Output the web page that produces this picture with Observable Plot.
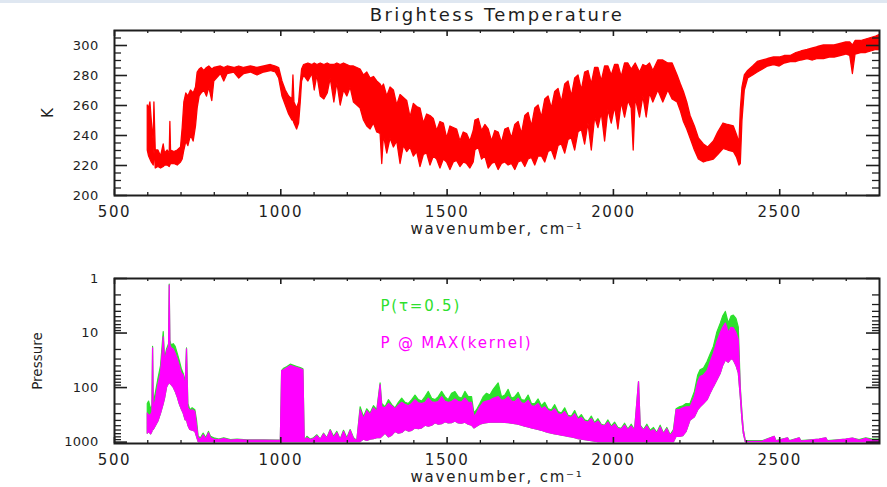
<!DOCTYPE html>
<html><head><meta charset="utf-8">
<script src="https://cdn.jsdelivr.net/npm/d3@7"></script>
<script src="https://cdn.jsdelivr.net/npm/@observablehq/plot@0.6"></script>
<style>
html,body{margin:0;padding:0;background:#fff;}
#wrap{position:relative;width:887px;height:487px;overflow:hidden;background:#fff;}
#wrap .panel{position:absolute;left:0;}
#strip{position:absolute;left:0;top:0;width:887px;height:3px;background:#dfe7f1;}
#wrap g[aria-label="x-axis tick label"] text{letter-spacing:1.6px;}
#wrap g[aria-label="y-axis tick label"] text{letter-spacing:0.3px;}
</style></head><body><div id="wrap"><div id="strip"></div></div>
<script>
// ---------- Brightness temperature (K): wavenumber, upper and lower envelope ----------
const tbWn = [600,604,608,612,618,620,624,632,640,648,652,660,666,668,670,680,690,700,705,710,716,722,730,738,745,750,756,762,770,778,785,794,800,820,830,840,860,875,890,910,930,950,970,985,995,1005,1015,1025,1035,1038,1041,1049,1055,1060,1064,1070,1083,1095,1102,1110,1120,1131,1141,1150,1161,1170,1180,1190,1200,1210,1220,1230,1240,1250,1260,1270,1280,1290,1300,1305,1310,1320,1330,1340,1350,1360,1370,1380,1390,1400,1410,1420,1430,1440,1450,1460,1470,1480,1490,1500,1510,1520,1530,1540,1550,1560,1570,1580,1585,1595,1605,1615,1625,1635,1645,1655,1665,1675,1685,1695,1705,1715,1725,1735,1745,1755,1765,1775,1785,1795,1805,1815,1825,1835,1845,1855,1865,1875,1885,1895,1905,1915,1925,1935,1945,1955,1965,1975,1985,1995,2005,2015,2025,2035,2045,2055,2061,2067,2080,2090,2100,2110,2120,2135,2150,2165,2178,2193,2203,2212,2222,2232,2245,2257,2272,2285,2302,2315,2331,2345,2362,2372,2379,2383,2388,2395,2405,2420,2434,2450,2465,2483,2500,2515,2533,2550,2565,2584,2600,2615,2633,2650,2665,2683,2700,2712,2720,2728,2745,2760,2775,2790,2800];
const tbHigh = [260,258,262,250,236,262,230,230,226,234,228,230,228,249,230,229,230,232,245,262,268,266,270,268,272,282,284,285,283,285,286,284,285,286,285,286,285,286,285,286,285,286,287,286,285,276,270,266,264,280,262,258,262,275,284,287,288,287,288,287,288,287,288,287,287,288,287,288,287,286,286,285,284,280,282,278,279,276,274,272,274,266,272,270,260,267,265,263,252,261,259,258,248,254,253,251,243,249,248,238,246,245,244,236,242,241,236,243,250,251,243,247,244,236,243,242,235,244,245,238,247,249,241,253,255,246,258,260,252,264,266,258,269,271,262,274,276,266,278,280,270,282,283,274,285,285,276,286,286,280,287,287,279,288,288,284,286,288,282,287,286,288,283,290,290,288,288,280,274,269,262,253,246,238,234,232,236,242,248,247,246,240,235,257,272,280,283,286,289,290,291,292,292,293,293,295,296,297,298,299,300,300,300,301,302,302,300,303,303,304,305,306,307];
const tbLow = [230,226,224,222,220,232,218,219,218,219,220,220,219,220,221,221,220,222,224,230,236,233,240,236,246,258,266,268,270,266,272,263,276,281,276,281,282,278,281,282,280,282,283,282,278,266,260,254,250,250,248,244,248,262,276,280,276,281,270,280,266,264,268,278,262,275,260,270,266,272,262,260,258,250,246,244,248,242,241,221,240,228,238,232,236,221,233,229,232,226,229,219,227,228,220,226,224,218,224,222,217,222,223,219,222,221,218,222,230,232,224,226,218,221,222,217,221,222,220,221,217,222,223,219,224,225,220,226,226,222,229,230,224,233,234,228,237,238,230,242,244,234,248,230,252,245,255,236,257,248,259,244,262,252,263,258,230,265,252,266,252,268,262,270,262,270,264,262,256,249,244,238,230,224,222,223,224,227,231,230,229,225,220,221,250,270,278,280,282,284,286,287,286,288,289,289,290,291,290,291,291,292,292,293,294,293,281,294,295,295,296,297,297];

// ---------- Pressure (hPa): wavenumber, P(tau=0.5) top, P@MAX(kernel) top, band bottom ----------
const pWn = [600,604,610,614,616,618,625,632,640,648,652,658,664,666,668,672,678,684,690,696,702,708,714,718,722,728,735,743,748,753,760,768,776,784,790,800,815,830,850,870,900,950,1000,1004,1010,1020,1030,1040,1050,1060,1068,1072,1080,1090,1100,1110,1120,1130,1140,1150,1160,1170,1180,1190,1200,1210,1220,1230,1240,1250,1260,1270,1280,1290,1300,1305,1315,1325,1335,1345,1355,1365,1375,1385,1395,1405,1415,1425,1435,1445,1455,1465,1475,1485,1495,1505,1515,1525,1535,1545,1555,1565,1575,1582,1590,1600,1610,1620,1630,1640,1655,1665,1675,1685,1695,1705,1715,1725,1735,1745,1755,1765,1775,1785,1795,1805,1815,1825,1835,1845,1855,1865,1875,1885,1895,1905,1915,1925,1935,1945,1955,1965,1975,1985,1995,2005,2015,2025,2035,2045,2055,2065,2077,2082,2092,2102,2112,2122,2132,2142,2152,2162,2172,2182,2190,2200,2210,2220,2232,2245,2255,2262,2272,2283,2292,2302,2312,2323,2330,2338,2347,2355,2362,2370,2377,2383,2388,2392,2398,2450,2485,2490,2525,2530,2560,2565,2620,2640,2645,2700,2720,2740,2760,2780,2800];
const pTauTop = [200,180,250,220,18,200,120,70,40,9.6,30,20,16,1.3,14,17,16,18,24,32,45,56,80,19,200,260,240,260,400,800,850,700,850,650,800,850,900,850,920,900,930,930,940,50,45,42,38,40,42,44,46,950,800,900,850,750,900,700,850,600,800,650,900,620,850,600,850,950,230,350,250,300,220,260,84,200,230,170,210,240,190,160,190,200,170,140,170,180,150,120,160,170,150,120,150,170,130,121,150,160,120,150,150,300,260,200,150,130,140,110,84,150,140,110,160,150,125,170,175,140,200,200,165,220,190,250,260,210,280,300,240,330,340,270,370,320,400,420,340,450,380,480,500,400,520,440,550,570,460,590,480,610,79,500,600,480,620,550,680,500,700,550,750,600,250,230,220,200,198,120,60,48,45,34,25,18,10,6.7,5,4.1,6.7,5,4.8,5.5,8,100,300,600,960,960,800,960,850,960,850,960,900,850,960,900,860,920,850,900,900];
const pKerTop = [300,330,320,280,19,260,160,90,55,12,36,22,18,1.35,17,19,20,24,30,40,55,60,100,20,240,270,260,280,500,850,900,750,900,690,850,900,920,880,940,920,940,940,950,50,48,44,40,42,44,46,48,960,850,920,880,780,920,720,870,620,850,680,920,650,900,620,880,960,260,380,270,320,240,280,90,230,240,200,222,250,215,190,208,220,200,170,195,200,190,160,186,190,184,150,183,190,184,165,186,187,160,189,190,345,300,230,190,180,175,160,150,175,170,150,180,185,160,195,200,175,220,225,200,250,230,270,285,250,310,320,280,350,360,310,395,360,425,440,380,470,420,500,515,440,545,480,575,590,500,610,520,630,79,520,620,520,650,600,700,540,720,580,780,650,260,260,240,230,230,150,80,64,60,50,35,24,15,10,8,6.7,10,8,8.2,10,13.7,112,320,610,1000,980,800,980,850,980,850,980,900,850,980,900,860,950,870,950,950];
const pBottom = [700,650,720,650,500,600,500,420,300,200,160,100,85,80,85,90,100,120,150,200,250,300,400,400,500,600,620,640,800,1000,1000,1000,1000,1000,1000,1000,1000,1000,1000,1000,1000,1000,1000,1000,1000,1000,1000,1000,1000,1000,1000,1000,1000,1000,1000,1000,1000,1000,1000,1000,1000,1000,1000,1000,1000,1000,1000,1000,1000,900,950,900,880,850,850,800,700,820,760,650,700,680,600,640,620,560,580,560,500,520,500,450,480,470,430,455,450,420,455,460,440,480,500,560,520,480,460,450,440,440,440,440,445,450,460,470,480,500,520,540,560,580,600,620,650,680,700,720,740,760,780,800,820,850,880,900,920,940,960,980,1000,1000,1000,1000,1000,1000,1000,1000,1000,1000,1000,1000,1000,1000,1000,1000,1000,1000,1000,1000,1000,1000,1000,1000,800,800,780,650,400,350,260,230,200,170,130,98,75,55,40,32,35,30,32,40,55,150,400,700,1000,1000,1000,1000,1000,1000,1000,1000,1000,1000,1000,1000,1000,1000,1000,1000,1000];

// ---------- axis ticks and labels ----------
const xTickValues = [500,1000,1500,2000,2500];
const xMinorValues = [600,700,800,900,1100,1200,1300,1400,1600,1700,1800,1900,2100,2200,2300,2400,2600,2700];
const tbTickValues = [200,220,240,260,280,300];
const tbMinorValues = [205,210,215,225,230,235,245,250,255,265,270,275,285,290,295,305];
const pTickValues = [1,10,100,1000];
const pMinorValues = [2,3,4,5,6,7,8,9,20,30,40,50,60,70,80,90,200,300,400,500,600,700,800,900];
const titleText = "Brightess Temperature";
const xLabel = "wavenumber, cm\u207B\u00B9";
const tbLabel = "K";
const pLabel = "Pressure";
const legendLabels = ["P(\u03C4=0.5)", "P @ MAX(kernel)"];

const FONT = "DejaVu Sans";
const INK = "#1e1e1e";
const RED = "#ff0000", GREEN = "#2de02d", MAGENTA = "#ff00ff";

const W = 887, ML = 114, MR = 8;
const FW = W - ML - MR;

const tbRows = tbWn.map((wn, i) => ({wn, hi: tbHigh[i], lo: tbLow[i]}));
const prRows = pWn.map((wn, i) => ({wn, tau: pTauTop[i], ker: pKerTop[i], bot: pBottom[i]}));

function frameTicks(major, minor, fh, majLen, minLen, xMaj, xMin) {
  return [
    Plot.tickY(major, {y: d => d, insetRight: FW - majLen, stroke: INK, strokeWidth: 1.6}),
    Plot.tickY(minor, {y: d => d, insetRight: FW - minLen, stroke: INK, strokeWidth: 1.3}),
    Plot.tickY(major, {y: d => d, insetLeft: FW - majLen, stroke: INK, strokeWidth: 1.6}),
    Plot.tickY(minor, {y: d => d, insetLeft: FW - minLen, stroke: INK, strokeWidth: 1.3}),
    Plot.tickX(xTickValues, {x: d => d, insetTop: fh - xMaj, stroke: INK, strokeWidth: 1.6}),
    Plot.tickX(xMinorValues, {x: d => d, insetTop: fh - xMin, stroke: INK, strokeWidth: 1.3}),
    Plot.tickX(xTickValues, {x: d => d, insetBottom: fh - xMaj, stroke: INK, strokeWidth: 1.6}),
    Plot.tickX(xMinorValues, {x: d => d, insetBottom: fh - xMin, stroke: INK, strokeWidth: 1.3})
  ];
}

// ---------- top panel ----------
const H1 = 250, MT1 = 30, MB1 = 55;
const FH1 = H1 - MT1 - MB1;
const topPlot = Plot.plot({
  width: W, height: H1, marginTop: MT1, marginBottom: MB1, marginLeft: ML, marginRight: MR,
  style: {fontFamily: FONT, fontSize: "13px", color: INK, background: "transparent"},
  x: {domain: [500, 2800]},
  y: {domain: [200, 310]},
  marks: [
    Plot.areaY(tbRows, {x: "wn", y1: "lo", y2: "hi", fill: RED, stroke: RED, strokeWidth: 1.3}),
    ...frameTicks(tbTickValues, tbMinorValues, FH1, 13, 7, 6, 3),
    Plot.frame({stroke: INK, strokeWidth: 2}),
    Plot.axisX({ticks: xTickValues, tickSize: 0, tickPadding: 11, tickFormat: d => String(d), label: null, fontSize: 15}),
    Plot.axisY({ticks: tbTickValues, tickSize: 0, tickPadding: 16, tickFormat: d => String(d), label: null, fontSize: 13}),
    Plot.text([titleText], {frameAnchor: "top", dy: -15, text: d => d, fontSize: 18, textAnchor: "middle", lineAnchor: "middle", fill: INK}),
    Plot.text([xLabel], {frameAnchor: "bottom", dy: 34, text: d => d, fontSize: 15, textAnchor: "middle", lineAnchor: "middle", fill: INK}),
    Plot.text([tbLabel], {frameAnchor: "left", dx: -66, rotate: -90, text: d => d, fontSize: 15, textAnchor: "middle", lineAnchor: "middle", fill: INK})
  ]
});
topPlot.classList.add("panel");
topPlot.style.top = "0px";

// ---------- bottom panel ----------
const H2 = 237, MT2 = 28, MB2 = 44;
const FH2 = H2 - MT2 - MB2;
const bottomPlot = Plot.plot({
  width: W, height: H2, marginTop: MT2, marginBottom: MB2, marginLeft: ML, marginRight: MR,
  style: {fontFamily: FONT, fontSize: "13px", color: INK, background: "transparent"},
  x: {domain: [500, 2800]},
  y: {type: "log", domain: [1, 1060], reverse: true},
  marks: [
    Plot.areaY(prRows, {x: "wn", y1: "tau", y2: "bot", fill: GREEN, stroke: GREEN, strokeWidth: 1.2}),
    Plot.areaY(prRows, {x: "wn", y1: "ker", y2: "bot", fill: MAGENTA, stroke: MAGENTA, strokeWidth: 1.2}),
    ...frameTicks(pTickValues, pMinorValues, FH2, 13, 7, 6, 3),
    Plot.frame({stroke: INK, strokeWidth: 2}),
    Plot.axisX({ticks: xTickValues, tickSize: 0, tickPadding: 11, tickFormat: d => String(d), label: null, fontSize: 15}),
    Plot.axisY({ticks: pTickValues, tickSize: 0, tickPadding: 16, tickFormat: d => String(d), label: null, fontSize: 13}),
    Plot.text([xLabel], {frameAnchor: "bottom", dy: 34, text: d => d, fontSize: 15, textAnchor: "middle", lineAnchor: "middle", fill: INK}),
    Plot.text([pLabel], {frameAnchor: "left", dx: -77, rotate: -90, text: d => d, fontSize: 13.5, textAnchor: "middle", lineAnchor: "middle", fill: INK}),
    Plot.text([legendLabels[0]], {frameAnchor: "top-left", dx: 266, dy: 28, text: d => d, fontSize: 15, textAnchor: "start", lineAnchor: "middle", fill: GREEN}),
    Plot.text([legendLabels[1]], {frameAnchor: "top-left", dx: 266, dy: 65, text: d => d, fontSize: 15, textAnchor: "start", lineAnchor: "middle", fill: MAGENTA})
  ]
});
bottomPlot.classList.add("panel");
bottomPlot.style.top = H1 + "px";

// letter spacing to match the wide plotting font of the original
const spacing = new Map([
  [titleText, "2.4px"],
  [xLabel, "1.8px"],
  [legendLabels[0], "1.8px"],
  [legendLabels[1], "1.8px"]
]);
for (const svg of [topPlot, bottomPlot]) {
  d3.select(svg).selectAll("text").each(function () {
    const s = spacing.get(this.textContent);
    if (s) this.style.letterSpacing = s;
  });
}

const wrap = document.getElementById("wrap");
wrap.appendChild(topPlot);
wrap.appendChild(bottomPlot);
</script>
</body></html>
